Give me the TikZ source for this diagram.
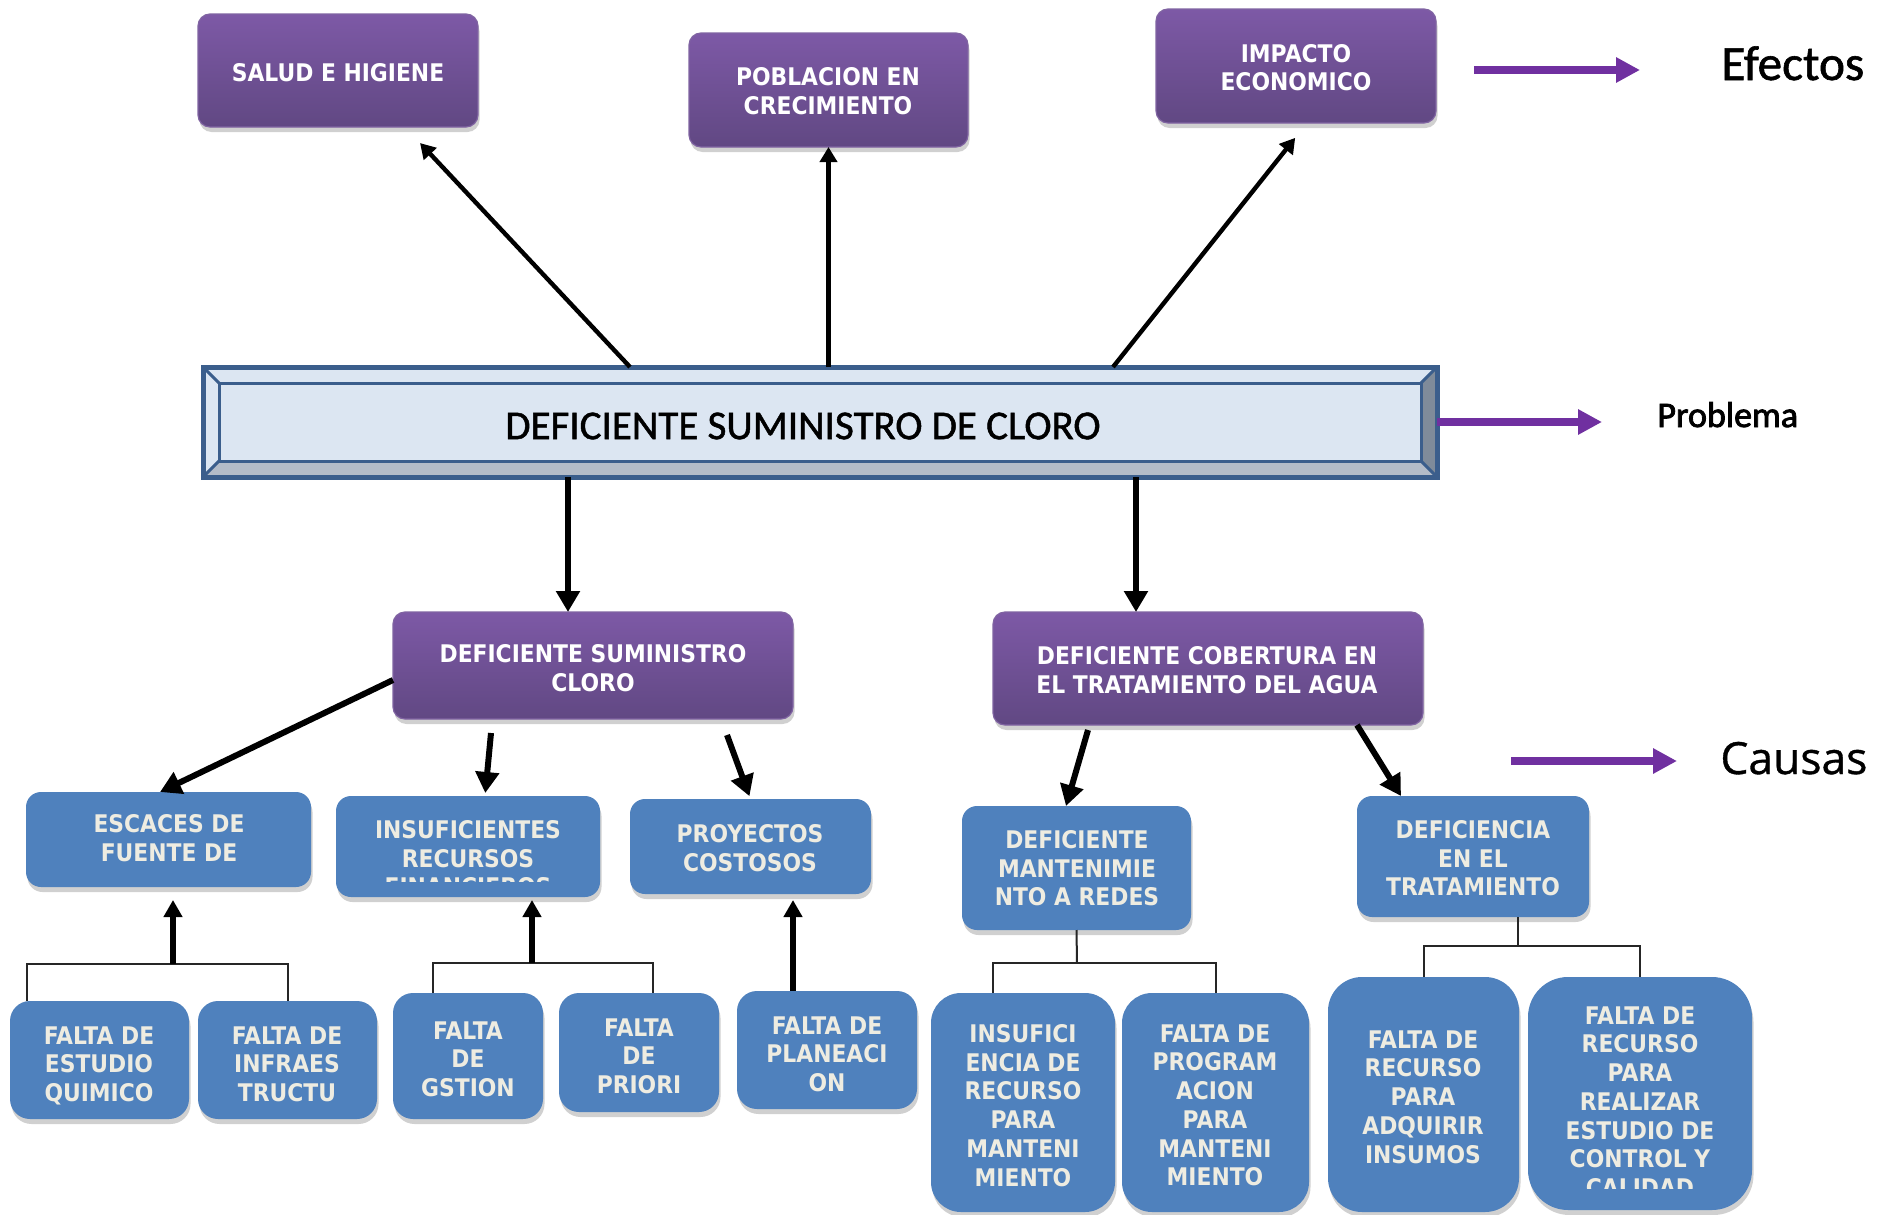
\documentclass[tikz,border=0pt]{standalone}
\usepackage{fontspec}
\usetikzlibrary{arrows.meta,shadows,calc}
\newfontfamily\boxfont[FakeStretch=0.9]{DejaVu Sans}
\newfontfamily\titlefont[FakeBold=1.2]{Carlito}
\newfontfamily\problemfont[FakeBold=2.2]{Carlito}
\newfontfamily\causafont[FakeBold=0.8]{Open Sans}
\definecolor{ptop}{RGB}{125,89,166}
\definecolor{pbot}{RGB}{97,72,131}
\definecolor{pedge}{RGB}{128,100,162}
\definecolor{bfill}{RGB}{79,129,189}
\definecolor{creamtxt}{RGB}{238,236,225}
\definecolor{shadowc}{RGB}{208,208,208}
\definecolor{mface}{RGB}{220,230,242}
\definecolor{mborder}{RGB}{59,94,140}
\definecolor{mbot}{RGB}{180,188,200}
\definecolor{mright}{RGB}{127,139,154}
\definecolor{parrow}{RGB}{112,48,160}
\begin{document}
\begin{tikzpicture}[x=0.5pt,y=-0.5pt,
  shadowed/.style={drop shadow={shadow xshift=0.75pt,shadow yshift=-2.5pt,fill=shadowc,opacity=1}},
  pbox/.style={shadowed,rectangle,rounded corners=6pt,top color=ptop,bottom color=pbot,draw=pedge,line width=0.6pt,inner sep=0pt,outer sep=0pt},
  bluebox/.style={shadowed,rectangle,rounded corners=7.5pt,fill=bfill,inner sep=0pt,outer sep=0pt},
  tallbox/.style={bluebox,rounded corners=15pt},
  boxtxt/.style={inner sep=0pt,anchor=north,align=center,font=\boxfont\bfseries\fontsize{12.14}{14.35}\selectfont},
  ptxt/.style={boxtxt,text=white},
  bltxt/.style={boxtxt,text=creamtxt},
  thinarr/.style={line width=2.2pt,-{Triangle[length=7.5pt,width=8.5pt]}},
  bigarr/.style={line width=3pt,-{Triangle[length=10.5pt,width=11.5pt]}},
  uparr/.style={line width=3pt,-{Triangle[length=8.5pt,width=9pt]}},
  brk/.style={line width=1pt,draw=black!85},
  purarr/.style={draw=parrow,line width=4pt,-{Triangle[length=12pt,width=12pt]}}
]
\useasboundingbox (0,0) rectangle (1880,1215);
\fill[white] (0,0) rectangle (1880,1215);

% ---------- main problem box ----------
\node[minimum width=617pt,minimum height=55pt,inner sep=0pt,outer sep=0pt] (main) at (820,422) {};
\fill[mface] (main.north west) rectangle (main.south east);
\fill[mbot] (203,477) -- (1437,477) -- (1421,461) -- (219,461) -- cycle;
\fill[mright] (1437,367) -- (1437,477) -- (1421,461) -- (1421,383) -- cycle;
\draw[mborder,line width=1.5pt] (219,383) rectangle (1421,461);
\draw[mborder,line width=1.5pt] (203,367) -- (219,383) (1437,367) -- (1421,383) (203,477) -- (219,461) (1437,477) -- (1421,461);
\draw[mborder,line width=2.5pt] (main.north west) rectangle (main.south east);
\node[inner sep=0pt,font=\titlefont\fontsize{20.5}{24}\selectfont] (maintxt) at (803,426) {DEFICIENTE SUMINISTRO DE CLORO};

% ---------- effects ----------
\node[pbox,minimum width=140pt,minimum height=56.5pt] (salud) at (338,70.5) {};
\node[pbox,minimum width=139.5pt,minimum height=57pt] (pobl) at (828.5,90) {};
\node[pbox,minimum width=140pt,minimum height=57pt] (impacto) at (1296,66) {};
\node[ptxt] (saludtxt) at (338,63.15) {SALUD E HIGIENE};
\node[ptxt] (obltxt) at (828,67.15) {POBLACION EN\\CRECIMIENTO};
\node[ptxt] (impactotxt) at (1296,43.65) {IMPACTO\\ECONOMICO};

% ---------- first level causes ----------
\node[pbox,minimum width=200pt,minimum height=53.5pt] (sumin) at (593,665.5) {};
\node[pbox,minimum width=215pt,minimum height=56.5pt] (cober) at (1208,668.5) {};
\node[ptxt] (sumintxt) at (593,644.15) {DEFICIENTE SUMINISTRO\\CLORO};
\node[ptxt] (cobertxt) at (1207,646.15) {DEFICIENTE COBERTURA EN\\EL TRATAMIENTO DEL AGUA};

% ---------- second level ----------
\node[bluebox,minimum width=142.5pt,minimum height=47.5pt] (escaces) at (168.5,839.5) {};
\node[bluebox,minimum width=132pt,minimum height=50.5pt] (insuf) at (468,846.5) {};
\node[bluebox,minimum width=120.5pt,minimum height=47.5pt] (proy) at (750.5,846.5) {};
\node[bluebox,minimum width=114.5pt,minimum height=62pt] (mant) at (1076.5,868) {};
\node[bluebox,minimum width=116pt,minimum height=60.5pt] (defic) at (1473,856.5) {};
\node[bltxt] (escacestxt) at (169,814.15) {ESCACES DE\\FUENTE DE};
\begin{scope}
\clip (336,796) rectangle (600,881);
\node[bltxt] (insuftxt) at (468,820.15) {INSUFICIENTES\\RECURSOS\\FINANCIEROS};
\end{scope}
\node[bltxt] (proytxt) at (750,824.15) {PROYECTOS\\COSTOSOS};
\node[bltxt] (manttxt) at (1077,830.15) {DEFICIENTE\\MANTENIMIE\\NTO A REDES};
\node[bltxt] (defictxt) at (1473,820.15) {DEFICIENCIA\\EN EL\\TRATAMIENTO};

% ---------- third level ----------
\node[bluebox,rounded corners=10pt,minimum width=89.5pt,minimum height=59pt] (estudio) at (99.5,1060) {};
\node[bluebox,rounded corners=10pt,minimum width=89.5pt,minimum height=59pt] (infraes) at (287.5,1060) {};
\node[bluebox,rounded corners=10pt,minimum width=75pt,minimum height=63pt] (gstion) at (468,1056) {};
\node[bluebox,rounded corners=10pt,minimum width=80pt,minimum height=59.5pt] (priori) at (639,1052.5) {};
\node[bluebox,rounded corners=10pt,minimum width=90pt,minimum height=59pt] (planea) at (827,1050) {};
\node[tallbox,minimum width=92pt,minimum height=109.5pt] (insufici) at (1023,1102.5) {};
\node[tallbox,minimum width=93.5pt,minimum height=109.5pt] (program) at (1215.5,1102.5) {};
\node[tallbox,rounded corners=17pt,minimum width=95.5pt,minimum height=117.5pt] (adquirir) at (1423.5,1094.5) {};
\node[tallbox,rounded corners=20pt,minimum width=112pt,minimum height=116.5pt] (realizar) at (1640,1093.5) {};
\node[bltxt] (estudiotxt) at (99,1026.15) {FALTA DE\\ESTUDIO\\QUIMICO};
\node[bltxt] (infraestxt) at (287,1026.15) {FALTA DE\\INFRAES\\TRUCTU};
\node[bltxt] (gstiontxt) at (468,1021.15) {FALTA\\DE\\GSTION};
\node[bltxt] (prioritxt) at (639,1018.15) {FALTA\\DE\\PRIORI};
\node[bltxt] (planeatxt) at (827,1016.15) {FALTA DE\\PLANEACI\\ON};
\node[bltxt] (insufictxt) at (1023,1024.15) {INSUFICI\\ENCIA DE\\RECURSO\\PARA\\MANTENI\\MIENTO};
\node[bltxt] (programtxt) at (1215,1024.15) {FALTA DE\\PROGRAM\\ACION\\PARA\\MANTENI\\MIENTO};
\node[bltxt] (adquirirtxt) at (1423,1030.15) {FALTA DE\\RECURSO\\PARA\\ADQUIRIR\\INSUMOS};
\begin{scope}
\clip (1528,977) rectangle (1752,1188);
\node[bltxt] (realizartxt) at (1640,1006.15) {FALTA DE\\RECURSO\\PARA\\REALIZAR\\ESTUDIO DE\\CONTROL Y\\CALIDAD};
\end{scope}

% ---------- side labels ----------
\node[anchor=base west,inner sep=0pt,font=\titlefont\fontsize{24.6}{30}\selectfont] (efectos) at (1721,80) {Efectos};
\node[anchor=base west,inner sep=0pt,font=\problemfont\fontsize{18}{22}\selectfont] (problema) at (1657,427) {Problema};
\node[anchor=base west,inner sep=0pt,font=\causafont\fontsize{22.2}{27}\selectfont] (causas) at (1720,774) {Causas};
\coordinate (ef0) at (1474,70);
\draw[purarr,shorten >=40.5pt] (ef0) -- (ef0 -| efectos.west);
\draw[purarr,shorten >=27.5pt] (main.east) -- (main.east -| problema.west);
\coordinate (ca0) at (1511,761);
\draw[purarr,shorten >=21.5pt] (ca0) -- (ca0 -| causas.west);

% ---------- effect arrows ----------
\draw[thinarr,shorten >=11pt] ([xshift=-95pt]main.north) -- ([xshift=33.5pt]salud.south);
\draw[thinarr] (main.north -| pobl.south) -- (pobl.south);
\draw[thinarr,shorten >=9.5pt] ([xshift=146.5pt]main.north) -- ([xshift=5.5pt]impacto.south);

% ---------- cause arrows ----------
\coordinate (s1) at ([xshift=-12.5pt]sumin.north);
\draw[bigarr] (main.south -| s1) -- (s1);
\coordinate (c1) at ([xshift=-36pt]cober.north);
\draw[bigarr] (main.south -| c1) -- (c1);
\draw[bigarr] ([yshift=-7.25pt]sumin.west) -- ([xshift=-4.25pt]escaces.north);
\draw[bigarr,shorten >=1.5pt] ([xshift=-51pt,yshift=-7pt]sumin.south) -- ([xshift=8.5pt]insuf.north);
\draw[bigarr,shorten >=1.5pt] ([xshift=67pt,yshift=-8pt]sumin.south) -- (proy.north);
\draw[bigarr] ([xshift=-60pt,yshift=-2.5pt]cober.south) -- ([xshift=-5.25pt]mant.north);
\draw[bigarr] ([xshift=74.5pt]cober.south) -- ([xshift=-36pt]defic.north);

% ---------- brackets ----------
\coordinate (b1) at (173,964);
\draw[brk] ([xshift=-36.25pt]estudio.north) |- (b1) -| (infraes.north);
\draw[uparr,shorten >=6.5pt] (b1) -- (b1 |- escaces.south);
\coordinate (b2) at (532,963);
\draw[brk] ([xshift=-17.5pt]gstion.north) |- (b2) -| ([xshift=7pt]priori.north);
\draw[uparr,shorten >=1.5pt] (b2) -- (b2 |- insuf.south);
\coordinate (b3) at ([xshift=-17pt]planea.north);
\draw[uparr,shorten >=3pt] (b3) -- (b3 |- proy.south);
\coordinate (b4) at (1077,963);
\draw[brk] (mant.south) -- (b4);
\draw[brk] ([xshift=-15pt]insufici.north) |- (b4) -| (program.north);
\coordinate (b5) at (1518,946);
\draw[brk] (b5 |- defic.south) -- (b5);
\draw[brk] (adquirir.north) |- (b5) -| (realizar.north);
\end{tikzpicture}
\end{document}
